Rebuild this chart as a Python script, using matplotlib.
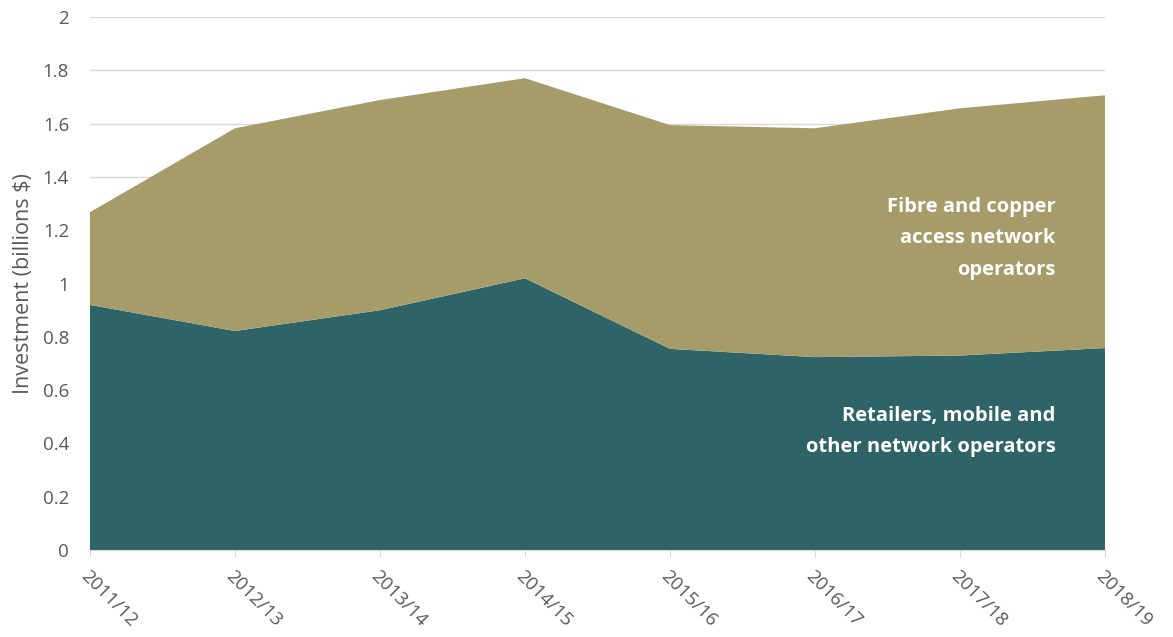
import matplotlib
matplotlib.use("Agg")
import matplotlib.pyplot as plt

years = ["2011/12", "2012/13", "2013/14", "2014/15",
         "2015/16", "2016/17", "2017/18", "2018/19"]
retailers = [0.92, 0.822, 0.90, 1.02, 0.755, 0.724, 0.73, 0.758]
fibre = [0.348, 0.761, 0.789, 0.751, 0.84, 0.859, 0.928, 0.949]

teal = "#2E6468"
olive = "#A59C69"
grey = "#595959"

plt.rcParams["font.family"] = ["Open Sans", "DejaVu Sans"]

fig = plt.figure(figsize=(11.73, 6.37), dpi=100)
ax = fig.add_axes([0.0767, 0.1366, 0.8653, 0.8364])

x = list(range(len(years)))
ax.stackplot(x, retailers, fibre, colors=[teal, olive], linewidth=0)

ax.set_xlim(0, len(years) - 1)
ax.set_ylim(0, 2)
ax.set_yticks([0, 0.2, 0.4, 0.6, 0.8, 1, 1.2, 1.4, 1.6, 1.8, 2])
ax.set_yticklabels(["0", "0.2", "0.4", "0.6", "0.8", "1", "1.2", "1.4",
                    "1.6", "1.8", "2"])
ax.grid(axis="y", color="#D9D9D9", linewidth=1)
ax.set_axisbelow(True)

ax.set_xticks(x)
ax.set_xticklabels(years, rotation=-45, ha="left", va="top",
                   rotation_mode="anchor")
ax.tick_params(axis="x", length=5, color="#D9D9D9", labelsize=13.5,
               labelcolor=grey, pad=7)
ax.tick_params(axis="y", length=0, labelsize=13.5, labelcolor=grey, pad=15)

for side in ["top", "right", "left"]:
    ax.spines[side].set_visible(False)
ax.spines["bottom"].set_color("#D9D9D9")

ax.set_ylabel("Investment (billions $)", fontsize=15.5, color=grey,
              labelpad=6)

ax.text(6.66, 1.17, "Fibre and copper\naccess network\noperators",
        ha="right", va="center", color="white", fontsize=14.5,
        fontweight="bold", linespacing=1.75)
ax.text(6.66, 0.445, "Retailers, mobile and\nother network operators",
        ha="right", va="center", color="white", fontsize=14.5,
        fontweight="bold", linespacing=1.75)

fig.savefig("out.png", dpi=100)
